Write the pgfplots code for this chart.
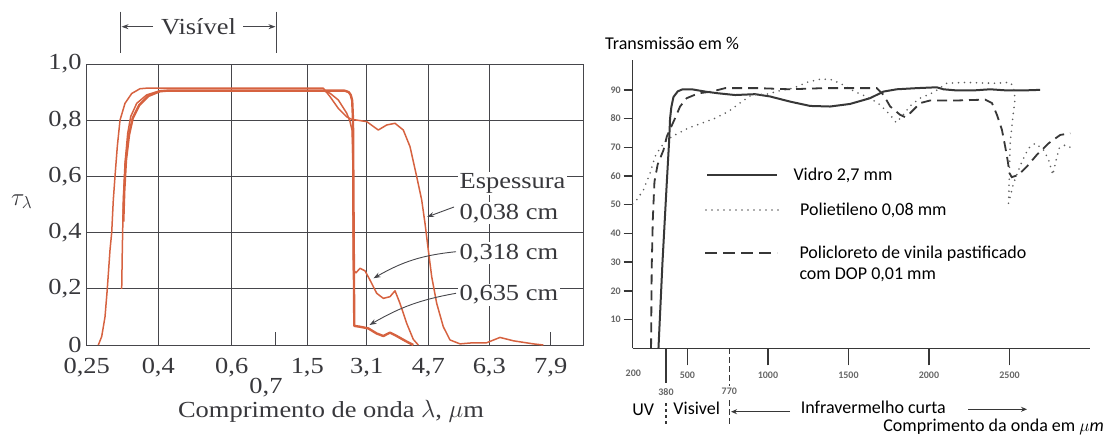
\documentclass[border=0pt]{standalone}
\usepackage{pgfplots}
\pgfplotsset{compat=1.18}
\usepackage{fontspec}
\setmainfont{Liberation Serif}
\newfontfamily\leftfont[FakeStretch=1.15]{Liberation Serif}
\newfontfamily\rightfont{Carlito}
\usetikzlibrary{arrows.meta}

\definecolor{rust}{RGB}{214,98,64}
\definecolor{gridc}{RGB}{70,70,75}
\definecolor{ink}{RGB}{55,55,55}

\begin{document}
\begin{tikzpicture}[x=1pt,y=1pt]
\useasboundingbox (0,0) rectangle (1113,437);

% ---------- left chart: transmissivity of glass ----------
\begin{axis}[
    at={(86.7pt,92pt)}, anchor=south west,
    scale only axis, width=496.6pt, height=281pt,
    xmin=0, xmax=496.6, ymin=0, ymax=1,
    axis line style={gridc, line width=0.9pt},
    major tick length=0pt,
    xtick={71.6,145,220.6,280,341.6,402.6},
    xticklabels={{0,4},{0,6},{1,5},{3,1},{4,7},{6,3}},
    extra x ticks={0,464},
    extra x tick labels={{0,25},{7,9}},
    extra x tick style={grid=none},
    ytick={0,0.2,0.4,0.6,0.8,1},
    yticklabels={0,{0,2},{0,4},{0,6},{0,8},{1,0}},
    grid=major,
    grid style={gridc, line width=0.9pt},
    ticklabel style={font=\leftfont\fontsize{23}{23}\selectfont, text=gridc!80!black, inner sep=0pt},
    xticklabel style={anchor=north, yshift=-13pt},
    yticklabel style={anchor=east, xshift=-5pt},
  ]
  % 0,038 cm
  \addplot[rust, line width=1.5pt, line join=round] coordinates {
    (11.6,0) (15,0.03) (18.3,0.10) (20.6,0.2) (23.3,0.338) (25,0.4) (26.6,0.516)
    (28.3,0.6) (30.6,0.706) (33.3,0.8) (38.3,0.86) (45,0.895) (53.3,0.912) (60,0.914)
    (236.6,0.914) (243.3,0.884) (251.6,0.842) (260,0.812) (265,0.803) (280,0.795)
    (291.6,0.765) (300,0.783) (308.3,0.789) (316.6,0.765) (323.3,0.706) (330,0.599)
    (335,0.516) (338.3,0.433) (341.6,0.338) (345,0.243) (350,0.148) (356.6,0.065)
    (363.3,0.018) (373.3,0.004) (386.6,0.008) (400,0.008) (413.3,0.027) (426.6,0.015)
    (446.6,0.004) (456.6,0)
  };
  % 0,318 cm
  \addplot[rust, line width=1.5pt, line join=round] coordinates {
    (35,0.2) (35.6,0.338) (36.6,0.516) (38.3,0.646) (41,0.753) (44,0.813) (50,0.86)
    (60,0.89) (73.3,0.905) (236.6,0.905) (243.3,0.896) (251.6,0.872) (260,0.825)
    (263.3,0.795) (265.3,0.765) (266,0.694) (266.3,0.457) (266.6,0.267) (269.3,0.257)
    (273.3,0.273) (278.3,0.264) (283.3,0.231) (290,0.184) (296.6,0.166) (303.3,0.172)
    (308.3,0.193) (313.3,0.148) (320,0.077) (326.6,0.02) (331.6,0)
  };
  % 0,635 cm
  \addplot[rust, line width=2.4pt, line join=round] coordinates {
    (36.6,0.439) (37.6,0.55) (39.3,0.658) (42.3,0.747) (46,0.807) (52.6,0.854)
    (61.6,0.886) (73.3,0.903) (80,0.905) (258,0.905) (262,0.9) (264,0.89) (265.5,0.87)
    (266.3,0.8) (266.8,0.5) (267.3,0.2) (267.6,0.068) (273.3,0.065) (281.6,0.059)
    (290,0.041) (296.6,0.032) (303.3,0.044) (310,0.032) (320,0.012) (326.6,0)
  };
  % short ticks at 0,7 and 7,9
  \draw[gridc, line width=0.9pt] (axis cs:188.3,0) -- ++(0pt,13pt);
  \draw[gridc, line width=0.9pt] (axis cs:464,0) -- ++(0pt,13pt);
\end{axis}

\begin{scope}[font=\leftfont\fontsize{23}{23}\selectfont, text=gridc!80!black]
  \node[anchor=north, inner sep=0pt] at (266,58.5) {0,7};
  \node at (331,26) {Comprimento de onda $\lambda$, $\mu$m};
  \node at (21.7,235.3) {$\tau_\lambda$};
  % Visivel bracket
  \draw[gridc, line width=0.9pt] (120.4,425.3) -- (120.4,383.7);
  \draw[gridc, line width=0.9pt] (276.6,425.3) -- (276.6,383.7);
  \draw[gridc, line width=0.9pt, -{Stealth[length=7pt,width=5pt]}] (153,410.3) -- (121.5,410.3);
  \draw[gridc, line width=0.9pt, -{Stealth[length=7pt,width=5pt]}] (243,410.3) -- (275.5,410.3);
  \node at (198.5,410.3) {Visível};
  % thickness labels
  \node[anchor=west, fill=white, inner sep=1.5pt] at (458,253.7) {Espessura};
  \node[anchor=west, fill=white, inner sep=1.5pt] at (458,223.7) {0,038 cm};
  \node[anchor=west, fill=white, inner sep=1.5pt] at (458,183.7) {0,318 cm};
  \node[anchor=west, fill=white, inner sep=1.5pt] at (458,142) {0,635 cm};
  \draw[gridc, line width=0.9pt, -{Stealth[length=7pt,width=5pt]}] (454,230) -- (427,220);
  \draw[gridc, line width=0.9pt, -{Stealth[length=7pt,width=5pt]}] (456,185.3) to[bend right=12] (373.5,158.7);
  \draw[gridc, line width=0.9pt, -{Stealth[length=7pt,width=5pt]}] (456,143.7) to[bend right=10] (369.5,112);
\end{scope}

% ---------- right chart: transmission in percent ----------
\begin{axis}[
    at={(632.7pt,88.7pt)}, anchor=south west,
    scale only axis, width=457.3pt, height=288.3pt,
    xmin=160, xmax=3000, ymin=0, ymax=100.4,
    axis x line=bottom, axis y line=left,
    axis line style={-, ink, line width=1.5pt},
    tick align=outside,
    major tick length=17pt,
    tick style={ink, line width=1.5pt},
    ytick style={/pgfplots/major tick length=9pt},
    xtick={500,1000,1500,2000,2500},
    xticklabels={500,1000,1500,2000,2500},
    ytick={10,20,30,40,50,60,70,80,90},
    yticklabels={10,20,30,40,50,60,70,80,90},
    ticklabel style={font=\rightfont\bfseries\fontsize{10}{10}\selectfont, text=black!60, inner sep=0pt},
    xticklabel style={anchor=center, yshift=-10pt},
    yticklabel style={anchor=center},
  ]
  % Vidro 2,7 mm
  \addplot[ink, line width=2pt, line join=round] coordinates {
    (320,0) (345,30) (372,58) (386,72) (392,80) (400,84) (413,87.5) (440,89.5)
    (470,90.2) (527,90.2) (610,89.4) (692,88.8) (796,88.2) (920,88.5) (1013,87.7)
    (1138,85.9) (1262,84.4) (1386,84.2) (1510,85.1) (1634,87.1) (1717,89.4) (1800,90.2)
    (1924,90.6) (2048,90.9) (2090,90.2) (2172,89.8) (2276,89.8) (2380,90.2) (2483,89.8)
    (2587,89.8) (2690,90.0)
  };
  % Polietileno 0,08 mm
  \addplot[ink!80, line width=1.8pt, line cap=round, dash pattern=on 0pt off 6pt] coordinates {
    (160,50.3) (185,51.7) (227,55.2) (268,61) (299,66.8) (330,69.7) (372,72.6)
    (423,74.3) (506,76.7) (589,78.4) (672,80.1) (755,82.5) (838,85.9) (900,88.3)
    (993,88.5) (1075,89.7) (1158,90.6) (1241,92.6) (1324,93.7) (1386,93.7) (1448,92.3)
    (1510,90.2) (1572,88.6) (1634,87.1) (1696,84.8) (1759,81.3) (1796,78.6) (1831,80.7)
    (1883,84.4) (1945,87.1) (2028,89.1) (2110,92.3) (2214,92.6) (2400,92.3) (2503,92.6)
    (2524,91.2) (2535,86.8) (2521,80.7) (2504,71.4) (2500,62.1) (2494,50.5) (2525,57.5)
    (2577,65.0) (2618,69.7) (2660,71.4) (2711,69.1) (2743,65.6) (2769,60.4) (2790,65.6)
    (2809,69.7) (2846,70.8) (2877,70.0)
  };
  % Policloreto de vinila
  \addplot[ink, line width=1.8pt, dash pattern=on 10pt off 6pt] coordinates {
    (274,0) (278,28) (285,45) (295,58) (315,64) (351,69) (372,73.8) (423,80.1)
    (454,84.2) (495,87.1) (568,88.8) (651,89.4) (734,90.6) (941,90.6) (1138,90.2)
    (1345,90.6) (1552,90.6) (1676,90.6) (1717,88.3) (1759,84.2) (1821,81.3) (1852,80.5)
    (1883,81.9) (1945,85.4) (2007,86.3) (2173,86.3) (2349,86.6) (2391,85.4) (2422,81.3)
    (2453,76.1) (2473,70.3) (2488,65.6) (2500,61) (2514,59.6) (2556,60.4) (2608,63.3)
    (2670,67.4) (2743,71.4) (2815,74.3) (2877,74.9)
  };
\end{axis}

\begin{scope}[font=\rightfont\fontsize{18}{18}\selectfont, text=black]
  \node[anchor=west, inner sep=0pt] at (605,393.7) {Transmissão em \%};
  % legend
  \draw[ink, line width=2pt] (707.3,262) -- (776.7,262);
  \node[anchor=west, inner sep=0pt] at (793.3,262) {Vidro 2,7 mm};
  \draw[ink!80, line width=1.8pt, line cap=round, dash pattern=on 0pt off 6pt] (706,227) -- (778,227);
  \node[anchor=west, inner sep=0pt] at (800,227) {Polietileno 0,08 mm};
  \draw[ink, line width=1.8pt, dash pattern=on 12pt off 6pt] (705,183.7) -- (777,183.7);
  \node[anchor=west, inner sep=0pt] at (799.3,183.7) {Policloreto de vinila pastificado};
  \node[anchor=west, inner sep=0pt] at (799.3,162) {com DOP 0,01 mm};
  % region marks under the axis
  \draw[ink, line width=1.3pt] (666,88.7) -- (666,54);
  \draw[ink, line width=1.3pt, dash pattern=on 3pt off 3pt] (666,34) -- (666,10);
  \draw[ink, line width=1.3pt, dash pattern=on 6pt off 3pt] (729.3,88.7) -- (729.3,51);
  \draw[ink, line width=1.3pt, dash pattern=on 6pt off 3pt] (729.3,37) -- (729.3,10);
  \node[font=\rightfont\bfseries\fontsize{10}{10}\selectfont, text=black!60] at (633.3,64) {200};
  \node[font=\rightfont\bfseries\fontsize{10}{10}\selectfont, text=black!60] at (666,45.3) {380};
  \node[font=\rightfont\bfseries\fontsize{10}{10}\selectfont, text=black!60] at (729.3,45.3) {770};
  \node at (643.3,27) {UV};
  \node at (696.7,28.7) {Visivel};
  \node at (873.3,29.7) {Infravermelho curta};
  \draw[ink, line width=1.2pt, -{Stealth[length=6pt,width=5pt]}] (790,25.3) -- (731,25.3);
  \draw[ink, line width=1.2pt, -{Stealth[length=6pt,width=5pt]}] (968,27.7) -- (1027,27.7);
  \node[anchor=east, inner sep=0pt] at (1104,10.3) {Comprimento da onda em \textit{$\mu$m}};
\end{scope}
\end{tikzpicture}
\end{document}
